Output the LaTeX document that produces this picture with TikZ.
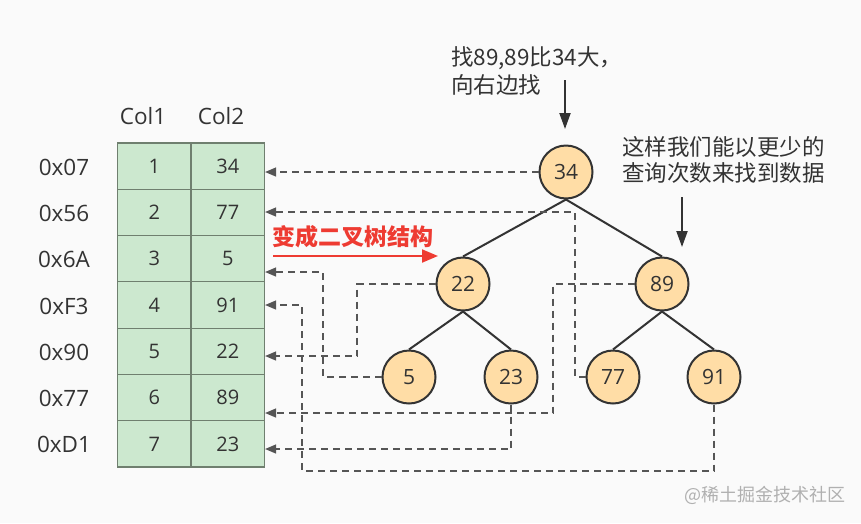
\documentclass[tikz,border=0pt]{standalone}
\usepackage{fontspec}
\setmainfont{Open Sans}
\newfontfamily\cjk{Noto Sans CJK SC}
\usetikzlibrary{arrows.meta}
\definecolor{bg}{HTML}{FAFAFA}
\definecolor{cellfill}{HTML}{CCE8CF}
\definecolor{cellline}{HTML}{6F7F6F}
\definecolor{nodefill}{HTML}{FFDDA6}
\definecolor{ink}{HTML}{333333}
\definecolor{dashc}{HTML}{555555}
\definecolor{redc}{HTML}{EE3B32}
\definecolor{wm}{HTML}{B0B0B0}
\begin{document}
\begin{tikzpicture}[x=1pt,y=-1pt,
  cell/.style={draw=cellline, fill=cellfill, line width=1.2pt, minimum width=73.5pt, minimum height=46.29pt, inner sep=0pt, font=\fontsize{20}{22}\selectfont, text=ink},
  addr/.style={font=\fontsize{22.5}{24}\selectfont, text=ink, inner sep=0pt},
  collabel/.style={font=\fontsize{22.5}{24}\selectfont, text=ink, inner sep=0pt},
  tnode/.style={circle, draw=ink, fill=nodefill, line width=2pt, minimum size=53pt, inner sep=0pt, font=\fontsize{21}{22}\selectfont, text=ink},
  edge/.style={draw=ink, line width=2pt},
  dline/.style={draw=dashc, line width=1.3pt, dash pattern=on 7pt off 5pt, -{Triangle[length=11pt,width=9pt]}},
  redarrow/.style={draw=redc, line width=2pt, -{Triangle[length=16pt,width=13pt]}},
  blackarrow/.style={draw=ink, line width=2pt, -{Triangle[length=16pt,width=11pt]}},
  note/.style={font=\cjk\fontsize{22.5}{28}\selectfont, text=ink, align=left, inner sep=0pt}
]
\useasboundingbox (0,0) rectangle (861,523);
\fill[bg] (0,0) rectangle (861,523);

% column labels
\node[collabel] (col1) at (143,116) {Col1};
\node[collabel] (col2) at (221,116) {Col2};

% table
\foreach \i/\a/\b/\ad in {1/1/34/0x07, 2/2/77/0x56, 3/3/5/0x6A, 4/4/91/0xF3, 5/5/22/0x90, 6/6/89/0x77, 7/7/23/0xD1} {
  \node[cell] (r\i-a) at (154.25, {143+46.29*(\i-0.5)}) {\a};
  \node[cell] (r\i-b) at (227.75, {143+46.29*(\i-0.5)}) {\b};
  \node[addr] (ad\i) at (64, {143+46.29*(\i-0.5)+1}) {\ad};
}

% tree
\node[tnode] (n34) at (566,172) {34};
\node[tnode] (n22) at (463,284) {22};
\node[tnode] (n89) at (662,284) {89};
\node[tnode] (n5)  at (409,377) {5};
\node[tnode] (n23) at (511,377) {23};
\node[tnode] (n77) at (613,377) {77};
\node[tnode] (n91) at (714,377) {91};

\draw[edge] (n34.south) -- (n22.north);
\draw[edge] (n34.south) -- (n89.north);
\draw[edge] (n22.south) -- (n5.north);
\draw[edge] (n22.south) -- (n23.north);
\draw[edge] (n89.south) -- (n77.north);
\draw[edge] (n89.south) -- (n91.north);

% dashed pointers
\draw[dline] (n34.west) -- (r1-b.east |- 0,172);
\draw[dline] (n77.west) -- (575,377) -- (575,212) -- (r2-b.east |- 0,212);
\draw[dline] (n5.west) -- (323,377) -- (323,272) -- (r3-b.east |- 0,272);
\draw[dline] (n91.south) -- (714,471) -- (302,471) -- (302,305) -- (r4-b.east |- 0,305);
\draw[dline] (n22.west) -- (357,284) -- (357,356) -- (r5-b.east |- 0,356);
\draw[dline] (n89.west) -- (553,284) -- (553,413) -- (r6-b.east |- 0,413);
\draw[dline] (n23.south) -- (511,449) -- (r7-b.east |- 0,449);

% red label and arrow
\node[font=\cjk\bfseries\fontsize{23}{26}\selectfont, text=redc, anchor=west, inner sep=0pt] (rtxt) at (272,237) {变成二叉树结构};
\coordinate (ra) at (273,256);
\coordinate (rb) at (438,256);
\draw[redarrow] (ra) -- (rb);

% annotations
\node[note, anchor=west] (note1) at (451,71) {找89,89比34大，\\向右边找};
\coordinate (a1s) at (565,80);
\coordinate (a1e) at (565,129);
\draw[blackarrow] (a1s) -- (a1e);

\node[note, anchor=west, font=\cjk\fontsize{22.5}{26}\selectfont] (note2) at (622,160) {这样我们能以更少的\\查询次数来找到数据};
\coordinate (a2s) at (682,197);
\coordinate (a2e) at (682,247);
\draw[blackarrow] (a2s) -- (a2e);

% watermark
\node[font=\cjk\fontsize{18}{20}\selectfont, text=wm, inner sep=0pt] (wmark) at (765,495) {@稀土掘金技术社区};
\end{tikzpicture}
\end{document}
